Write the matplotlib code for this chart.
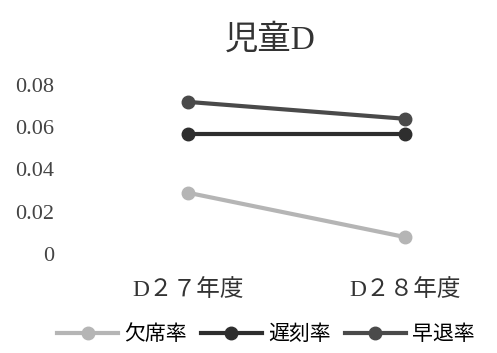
import matplotlib.pyplot as plt

plt.rcParams['font.family'] = ['Liberation Serif', 'Noto Sans CJK JP']

# data
years = ["D２７年度", "D２８年度"]
absence = [0.029, 0.008]     # 欠席率
late = [0.057, 0.057]        # 遅刻率
early = [0.072, 0.064]       # 早退率
yticks = [0, 0.02, 0.04, 0.06, 0.08]
ytick_labels = ["0", "0.02", "0.04", "0.06", "0.08"]

fig = plt.figure(figsize=(4.97, 3.53), dpi=100)
ax = fig.add_axes([75 / 497, 99 / 353, 415 / 497, 169 / 353])

x = range(len(years))
ax.plot(x, absence, color="#b5b5b5", lw=3, marker="o", ms=9, label="欠席率")
ax.plot(x, late, color="#2e2e2e", lw=3, marker="o", ms=9, label="遅刻率")
ax.plot(x, early, color="#4a4a4a", lw=3, marker="o", ms=9, label="早退率")

ax.set_xlim(-0.52, 1.39)
ax.set_ylim(0, 0.08)
ax.set_xticks(list(x))
ax.set_xticklabels(years, fontsize=17, color="#333333")
ax.set_yticks(yticks)
ax.set_yticklabels(ytick_labels, fontsize=16, color="#444444")
ax.tick_params(length=0, pad=18)
ax.tick_params(axis="y", pad=15)
for s in ax.spines.values():
    s.set_visible(False)

ax.set_title("児童D", fontsize=24, color="#333333", pad=26, x=0.47)
fig.legend(loc="center", bbox_to_anchor=(0.535, 0.05), ncol=3, frameon=False,
           fontsize=15, handlelength=2.9, columnspacing=0.7, handletextpad=0.3)

fig.savefig("out.png", dpi=100)
